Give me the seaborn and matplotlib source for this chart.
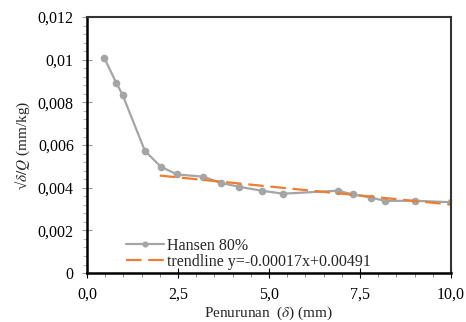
import numpy as np
import pandas as pd
import matplotlib
matplotlib.use("Agg")
import matplotlib.pyplot as plt
import seaborn as sns
from matplotlib.ticker import MultipleLocator, FuncFormatter

# Data
settlement = [0.47, 0.80, 0.98, 1.59, 2.03, 2.48, 3.19, 3.67, 4.19, 4.80, 5.39, 6.89, 7.30, 7.80, 8.20, 9.00, 10.00]
ratio = [0.0101, 0.00893, 0.00834, 0.00573, 0.00498, 0.00462, 0.00452, 0.00423, 0.00404, 0.00386,
         0.00372, 0.00386, 0.00369, 0.00354, 0.00338, 0.00339, 0.00332]
trend_slope = -0.00017
trend_intercept = 0.00491
trend_x = [2.0, 10.0]
series_label = "Hansen 80%"
trend_label = "trendline y=-0.00017x+0.00491"

sns.set_style("white")
plt.rcParams['font.family'] = ['Liberation Serif', 'DejaVu Serif']
plt.rcParams['mathtext.fontset'] = 'stix'

FS = 11.5
fig = plt.figure(figsize=(4.66, 3.22), dpi=100)
ax = fig.add_axes([0.1867, 0.152, 0.781, 0.795])

df = pd.DataFrame({"x": settlement, "y": ratio})
sns.lineplot(data=df, x="x", y="y", ax=ax, color="#A5A5A5", linewidth=1.6,
             marker="o", markersize=5.5, markeredgewidth=0, label=series_label)

tdf = pd.DataFrame({"x": trend_x,
                    "y": [trend_slope * v + trend_intercept for v in trend_x]})
sns.lineplot(data=tdf, x="x", y="y", ax=ax, color="#ED7D31", linewidth=1.6,
             dashes=False, label=trend_label)
ax.lines[-1].set_dashes([7, 3])

ax.set_xlim(0, 10)
ax.set_ylim(0, 0.012)
ax.xaxis.set_major_locator(MultipleLocator(2.5))
ax.xaxis.set_minor_locator(MultipleLocator(0.5))
ax.yaxis.set_major_locator(MultipleLocator(0.002))
ax.yaxis.set_minor_locator(MultipleLocator(0.0004))

ax.xaxis.set_major_formatter(FuncFormatter(lambda v, p: f"{v:.1f}".replace(".", ",")))
def yfmt(v, p):
    if abs(v) < 1e-12:
        return "0"
    s = f"{v:.3f}".rstrip("0")
    return s.replace(".", ",")
ax.yaxis.set_major_formatter(FuncFormatter(yfmt))

for s in ax.spines.values():
    s.set_color("#333333")
    s.set_linewidth(1.5)
    s.set_visible(True)
ax.spines['left'].set_linewidth(1.8)
ax.spines['left'].set_color("black")
ax.spines['bottom'].set_linewidth(1.8)
ax.spines['bottom'].set_color("black")

ax.tick_params(axis='both', which='major', direction='inout', length=7, width=0.8,
               labelsize=FS, colors='black', left=True, bottom=True, pad=6)
ax.tick_params(axis='both', which='minor', direction='out', length=3, width=0.6,
               left=True, bottom=True, colors='#777777')
ax.tick_params(axis='y', which='major', colors='#999999', labelcolor='black')
ax.tick_params(axis='y', which='minor', colors='#aaaaaa')

ax.set_xlabel(r"Penurunan  ($\delta$) (mm)", fontsize=FS - 0.5, labelpad=2)
ax.set_ylabel(r"√$\delta/Q$ (mm/kg)", fontsize=FS - 0.5, labelpad=4)

leg = ax.legend(loc="lower left", bbox_to_anchor=(0.08, -0.025), frameon=False,
                fontsize=FS, handlelength=2.4, handletextpad=0.2,
                labelspacing=0.0, borderaxespad=0.2, markerscale=0.8)

fig.savefig("out.png", dpi=100)
